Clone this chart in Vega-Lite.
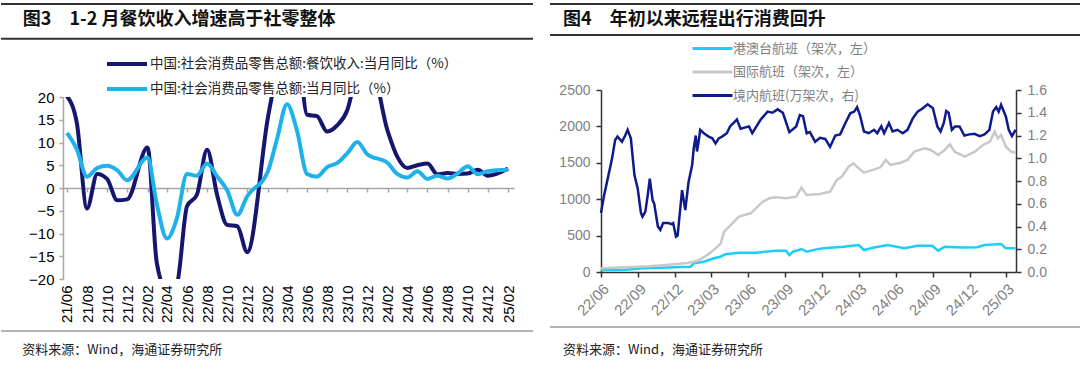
{
  "$schema": "https://vega.github.io/schema/vega-lite/v6.json",
  "padding": {"top": 3, "left": 0, "right": 0, "bottom": 0},
  "config": {"view": {"stroke": null}, "font": "Liberation Sans"},
  "spacing": 15,
  "resolve": {"scale": {"color": "independent"}, "legend": {"color": "independent"}},
  "hconcat": [
    {
      "spacing": 52,
      "bounds": "flush",
      "vconcat": [
        {
          "width": 532,
          "height": 41,
          "data": {"values": [{"t": "图3　1-2 月餐饮收入增速高于社零整体"}]},
          "layer": [
            {"mark": {"type": "rule", "stroke": "#333333", "strokeWidth": 2}, "encoding": {"y": {"datum": 1, "type": "quantitative", "scale": {"domain": [0, 1]}, "axis": null}}},
            {"mark": {"type": "rule", "stroke": "#333333", "strokeWidth": 2}, "encoding": {"y": {"datum": 0.15, "type": "quantitative", "axis": null}}},
            {"mark": {"type": "text", "align": "left", "baseline": "middle", "font": "Noto Sans CJK SC", "fontSize": 18, "fontWeight": "bold", "color": "#111111"},
             "encoding": {"text": {"field": "t"}, "x": {"datum": 0.041, "type": "quantitative", "scale": {"domain": [0, 1]}, "axis": null}, "y": {"datum": 0.6, "type": "quantitative", "axis": null}}}
          ]
        },
        {
          "width": 532,
          "height": 182,
          "data": {"values": [
            {"m": "2021-06-01", "c": 20.2, "r": 12.1},
            {"m": "2021-07-01", "c": 14.3, "r": 8.5},
            {"m": "2021-08-01", "c": -4.5, "r": 2.5},
            {"m": "2021-09-01", "c": 3.1, "r": 4.4},
            {"m": "2021-10-01", "c": 2.0, "r": 4.9},
            {"m": "2021-11-01", "c": -2.7, "r": 3.9},
            {"m": "2021-12-01", "c": -2.5, "r": 1.7},
            {"m": "2022-02-01", "c": 8.9, "r": 6.7},
            {"m": "2022-03-01", "c": -16.4, "r": -3.5},
            {"m": "2022-04-01", "c": -22.7, "r": -11.1},
            {"m": "2022-05-01", "c": -21.1, "r": -6.7},
            {"m": "2022-06-01", "c": -4.0, "r": 3.1},
            {"m": "2022-07-01", "c": -1.5, "r": 2.7},
            {"m": "2022-08-01", "c": 8.4, "r": 5.4},
            {"m": "2022-09-01", "c": -1.7, "r": 2.5},
            {"m": "2022-10-01", "c": -8.1, "r": -0.5},
            {"m": "2022-11-01", "c": -8.4, "r": -5.9},
            {"m": "2022-12-01", "c": -14.1, "r": -1.8},
            {"m": "2023-02-01", "c": 15.1, "r": 3.5},
            {"m": "2023-03-01", "c": 26.3, "r": 10.6},
            {"m": "2023-04-01", "c": 43.8, "r": 18.4},
            {"m": "2023-05-01", "c": 35.1, "r": 12.7},
            {"m": "2023-06-01", "c": 16.1, "r": 3.1},
            {"m": "2023-07-01", "c": 15.8, "r": 2.5},
            {"m": "2023-08-01", "c": 12.4, "r": 4.6},
            {"m": "2023-09-01", "c": 13.8, "r": 5.5},
            {"m": "2023-10-01", "c": 17.1, "r": 7.6},
            {"m": "2023-11-01", "c": 25.8, "r": 10.1},
            {"m": "2023-12-01", "c": 30.0, "r": 7.4},
            {"m": "2024-02-01", "c": 12.5, "r": 5.5},
            {"m": "2024-03-01", "c": 6.9, "r": 3.1},
            {"m": "2024-04-01", "c": 4.4, "r": 2.3},
            {"m": "2024-05-01", "c": 5.0, "r": 3.7},
            {"m": "2024-06-01", "c": 5.4, "r": 2.0},
            {"m": "2024-07-01", "c": 3.0, "r": 2.7},
            {"m": "2024-08-01", "c": 3.3, "r": 2.1},
            {"m": "2024-09-01", "c": 3.1, "r": 3.2},
            {"m": "2024-10-01", "c": 3.2, "r": 4.8},
            {"m": "2024-11-01", "c": 4.0, "r": 3.0},
            {"m": "2024-12-01", "c": 2.7, "r": 3.7},
            {"m": "2025-02-01", "c": 4.3, "r": 4.0}
          ]},
          "transform": [{"fold": ["c", "r"], "as": ["k", "v"]}],
          "mark": {"type": "line", "strokeWidth": 4, "interpolate": "monotone", "clip": true},
          "encoding": {
            "x": {"field": "m", "type": "temporal",
              "scale": {"type": "utc", "domain": [{"year": 2021, "month": 5, "date": 20, "utc": true}, {"year": 2025, "month": 2, "date": 19, "utc": true}], "range": [62, 513]},
              "axis": {"orient": "bottom", "offset": -91, "title": null, "grid": false,
                "values": [
                  {"year": 2021, "month": 6, "date": 1, "utc": true}, {"year": 2021, "month": 8, "date": 1, "utc": true}, {"year": 2021, "month": 10, "date": 1, "utc": true}, {"year": 2021, "month": 12, "date": 1, "utc": true},
                  {"year": 2022, "month": 2, "date": 1, "utc": true}, {"year": 2022, "month": 4, "date": 1, "utc": true}, {"year": 2022, "month": 6, "date": 1, "utc": true}, {"year": 2022, "month": 8, "date": 1, "utc": true}, {"year": 2022, "month": 10, "date": 1, "utc": true}, {"year": 2022, "month": 12, "date": 1, "utc": true},
                  {"year": 2023, "month": 2, "date": 1, "utc": true}, {"year": 2023, "month": 4, "date": 1, "utc": true}, {"year": 2023, "month": 6, "date": 1, "utc": true}, {"year": 2023, "month": 8, "date": 1, "utc": true}, {"year": 2023, "month": 10, "date": 1, "utc": true}, {"year": 2023, "month": 12, "date": 1, "utc": true},
                  {"year": 2024, "month": 2, "date": 1, "utc": true}, {"year": 2024, "month": 4, "date": 1, "utc": true}, {"year": 2024, "month": 6, "date": 1, "utc": true}, {"year": 2024, "month": 8, "date": 1, "utc": true}, {"year": 2024, "month": 10, "date": 1, "utc": true}, {"year": 2024, "month": 12, "date": 1, "utc": true},
                  {"year": 2025, "month": 2, "date": 1, "utc": true}
                ],
                "format": "%y/%m", "labelAngle": -90, "labelAlign": "right", "labelBaseline": "middle",
                "labelPadding": 93, "labelFont": "Liberation Sans", "labelFontSize": 15, "labelColor": "#000000",
                "labelOverlap": false, "labelBound": false, "labelFlush": false,
                "domainColor": "#a6a6a6", "domainWidth": 1.5, "tickColor": "#a6a6a6", "tickWidth": 1.5, "tickSize": 4}},
            "y": {"field": "v", "type": "quantitative", "scale": {"domain": [-20, 20], "nice": false},
              "axis": {"orient": "left", "offset": -62, "title": null, "grid": false, "values": [-20, -15, -10, -5, 0, 5, 10, 15, 20],
                "labelFont": "Liberation Sans", "labelFontSize": 15, "labelColor": "#000000", "labelPadding": 5,
                "domainColor": "#a6a6a6", "domainWidth": 1.5, "tickColor": "#a6a6a6", "tickWidth": 1.5, "tickSize": 4}},
            "color": {"field": "k", "type": "nominal", "scale": {"domain": ["c", "r"], "range": ["#15166f", "#1eb1ea"]},
              "legend": {"orient": "none", "legendX": 104, "legendY": 50, "direction": "vertical", "title": null, "padding": 0,
                "symbolType": "M-1,0H4", "symbolSize": 256, "symbolStrokeWidth": 4, "labelOffset": 25, "rowPadding": 7,
                "labelFont": "Noto Sans CJK SC", "labelFontSize": 13.5, "labelColor": "#222222", "labelLimit": 600,
                "labelExpr": "datum.label == 'c' ? '中国:社会消费品零售总额:餐饮收入:当月同比（%）' : '中国:社会消费品零售总额:当月同比（%）'"}}
          }
        },
        {
          "width": 532,
          "height": 30,
          "data": {"values": [{"t": "资料来源：Wind，海通证券研究所"}]},
          "layer": [
            {"mark": {"type": "rule", "stroke": "#9a9a9a", "strokeWidth": 1.5}, "encoding": {"y": {"datum": 1, "type": "quantitative", "scale": {"domain": [0, 1]}, "axis": null}}},
            {"mark": {"type": "text", "align": "left", "baseline": "middle", "font": "Noto Sans CJK SC", "fontSize": 13, "color": "#222222"},
             "encoding": {"text": {"field": "t"}, "x": {"datum": 0.04, "type": "quantitative", "scale": {"domain": [0, 1]}, "axis": null}, "y": {"datum": 0.37, "type": "quantitative", "axis": null}}}
          ]
        }
      ]
    },
    {
      "spacing": 55,
      "bounds": "flush",
      "vconcat": [
        {
          "width": 531,
          "height": 31,
          "data": {"values": [{"t": "图4　年初以来远程出行消费回升"}]},
          "layer": [
            {"mark": {"type": "rule", "stroke": "#333333", "strokeWidth": 2}, "encoding": {"y": {"datum": 1, "type": "quantitative", "scale": {"domain": [0, 1]}, "axis": null}}},
            {"mark": {"type": "rule", "stroke": "#333333", "strokeWidth": 2}, "encoding": {"y": {"datum": 0, "type": "quantitative", "axis": null}}},
            {"mark": {"type": "text", "align": "left", "baseline": "middle", "font": "Noto Sans CJK SC", "fontSize": 18, "fontWeight": "bold", "color": "#111111"},
             "encoding": {"text": {"field": "t"}, "x": {"datum": 0.0245, "type": "quantitative", "scale": {"domain": [0, 1]}, "axis": null}, "y": {"datum": 0.48, "type": "quantitative", "axis": null}}}
          ]
        },
        {
          "width": 531,
          "height": 182,
          "data": {"values": [
            {"d": "2022-06-01", "s": "hmt", "v": 27}, {"d": "2022-08-01", "s": "hmt", "v": 30}, {"d": "2022-09-14", "s": "hmt", "v": 50}, {"d": "2022-11-02", "s": "hmt", "v": 59},
            {"d": "2022-12-15", "s": "hmt", "v": 70}, {"d": "2023-01-09", "s": "hmt", "v": 73}, {"d": "2023-01-17", "s": "hmt", "v": 119}, {"d": "2023-02-11", "s": "hmt", "v": 142},
            {"d": "2023-03-08", "s": "hmt", "v": 188}, {"d": "2023-03-24", "s": "hmt", "v": 210}, {"d": "2023-04-05", "s": "hmt", "v": 243}, {"d": "2023-05-09", "s": "hmt", "v": 265},
            {"d": "2023-06-20", "s": "hmt", "v": 265}, {"d": "2023-08-09", "s": "hmt", "v": 293}, {"d": "2023-09-03", "s": "hmt", "v": 293}, {"d": "2023-09-11", "s": "hmt", "v": 233},
            {"d": "2023-09-20", "s": "hmt", "v": 279}, {"d": "2023-10-11", "s": "hmt", "v": 316}, {"d": "2023-10-24", "s": "hmt", "v": 279}, {"d": "2023-11-17", "s": "hmt", "v": 311},
            {"d": "2023-12-05", "s": "hmt", "v": 325}, {"d": "2024-01-23", "s": "hmt", "v": 348}, {"d": "2024-03-01", "s": "hmt", "v": 371}, {"d": "2024-03-14", "s": "hmt", "v": 302},
            {"d": "2024-04-08", "s": "hmt", "v": 336}, {"d": "2024-05-12", "s": "hmt", "v": 371}, {"d": "2024-06-22", "s": "hmt", "v": 325}, {"d": "2024-07-25", "s": "hmt", "v": 360},
            {"d": "2024-08-30", "s": "hmt", "v": 360}, {"d": "2024-09-14", "s": "hmt", "v": 293}, {"d": "2024-09-30", "s": "hmt", "v": 348}, {"d": "2024-11-15", "s": "hmt", "v": 336},
            {"d": "2024-12-20", "s": "hmt", "v": 340}, {"d": "2025-01-07", "s": "hmt", "v": 371}, {"d": "2025-02-17", "s": "hmt", "v": 385}, {"d": "2025-03-01", "s": "hmt", "v": 325},
            {"d": "2025-03-25", "s": "hmt", "v": 325},
            {"d": "2022-06-01", "s": "intl", "v": 50}, {"d": "2022-08-01", "s": "intl", "v": 65}, {"d": "2022-10-01", "s": "intl", "v": 80}, {"d": "2022-11-15", "s": "intl", "v": 100},
            {"d": "2023-01-01", "s": "intl", "v": 125}, {"d": "2023-01-25", "s": "intl", "v": 151}, {"d": "2023-02-20", "s": "intl", "v": 233}, {"d": "2023-03-12", "s": "intl", "v": 325},
            {"d": "2023-03-25", "s": "intl", "v": 394}, {"d": "2023-04-02", "s": "intl", "v": 554}, {"d": "2023-04-15", "s": "intl", "v": 622}, {"d": "2023-05-09", "s": "intl", "v": 760},
            {"d": "2023-06-07", "s": "intl", "v": 806}, {"d": "2023-06-20", "s": "intl", "v": 875}, {"d": "2023-07-07", "s": "intl", "v": 966}, {"d": "2023-07-23", "s": "intl", "v": 1012},
            {"d": "2023-08-09", "s": "intl", "v": 1026}, {"d": "2023-09-03", "s": "intl", "v": 1012}, {"d": "2023-09-28", "s": "intl", "v": 1035}, {"d": "2023-10-11", "s": "intl", "v": 1160},
            {"d": "2023-10-24", "s": "intl", "v": 1058}, {"d": "2023-11-26", "s": "intl", "v": 1071}, {"d": "2023-12-21", "s": "intl", "v": 1103}, {"d": "2024-01-07", "s": "intl", "v": 1264},
            {"d": "2024-01-19", "s": "intl", "v": 1309}, {"d": "2024-02-05", "s": "intl", "v": 1447}, {"d": "2024-02-17", "s": "intl", "v": 1493}, {"d": "2024-02-27", "s": "intl", "v": 1438},
            {"d": "2024-03-14", "s": "intl", "v": 1364}, {"d": "2024-03-30", "s": "intl", "v": 1392}, {"d": "2024-04-24", "s": "intl", "v": 1438}, {"d": "2024-05-07", "s": "intl", "v": 1538},
            {"d": "2024-05-19", "s": "intl", "v": 1470}, {"d": "2024-06-13", "s": "intl", "v": 1501}, {"d": "2024-06-30", "s": "intl", "v": 1538}, {"d": "2024-07-17", "s": "intl", "v": 1653},
            {"d": "2024-08-11", "s": "intl", "v": 1699}, {"d": "2024-08-27", "s": "intl", "v": 1676}, {"d": "2024-09-14", "s": "intl", "v": 1607}, {"d": "2024-09-30", "s": "intl", "v": 1676},
            {"d": "2024-10-13", "s": "intl", "v": 1754}, {"d": "2024-10-25", "s": "intl", "v": 1653}, {"d": "2024-11-19", "s": "intl", "v": 1584}, {"d": "2024-12-14", "s": "intl", "v": 1653},
            {"d": "2025-01-03", "s": "intl", "v": 1745}, {"d": "2025-01-20", "s": "intl", "v": 1790}, {"d": "2025-02-01", "s": "intl", "v": 1927}, {"d": "2025-02-09", "s": "intl", "v": 1836},
            {"d": "2025-02-17", "s": "intl", "v": 1882}, {"d": "2025-03-01", "s": "intl", "v": 1721}, {"d": "2025-03-14", "s": "intl", "v": 1653}, {"d": "2025-03-25", "s": "intl", "v": 1639},
            {"d": "2022-06-01", "s": "dom", "v": 0.52}, {"d": "2022-06-09", "s": "dom", "v": 0.68}, {"d": "2022-06-17", "s": "dom", "v": 0.81}, {"d": "2022-06-25", "s": "dom", "v": 0.94},
            {"d": "2022-06-29", "s": "dom", "v": 1.01}, {"d": "2022-07-06", "s": "dom", "v": 1.16}, {"d": "2022-07-12", "s": "dom", "v": 1.19}, {"d": "2022-07-23", "s": "dom", "v": 1.145},
            {"d": "2022-07-31", "s": "dom", "v": 1.2}, {"d": "2022-08-06", "s": "dom", "v": 1.25}, {"d": "2022-08-14", "s": "dom", "v": 1.175}, {"d": "2022-08-23", "s": "dom", "v": 0.85},
            {"d": "2022-08-31", "s": "dom", "v": 0.735}, {"d": "2022-09-08", "s": "dom", "v": 0.52}, {"d": "2022-09-12", "s": "dom", "v": 0.486}, {"d": "2022-09-19", "s": "dom", "v": 0.53},
            {"d": "2022-09-25", "s": "dom", "v": 0.68}, {"d": "2022-09-30", "s": "dom", "v": 0.82}, {"d": "2022-10-07", "s": "dom", "v": 0.63}, {"d": "2022-10-11", "s": "dom", "v": 0.6},
            {"d": "2022-10-20", "s": "dom", "v": 0.4}, {"d": "2022-10-26", "s": "dom", "v": 0.37}, {"d": "2022-11-02", "s": "dom", "v": 0.43}, {"d": "2022-11-15", "s": "dom", "v": 0.43},
            {"d": "2022-11-23", "s": "dom", "v": 0.42}, {"d": "2022-11-27", "s": "dom", "v": 0.43}, {"d": "2022-12-04", "s": "dom", "v": 0.31}, {"d": "2022-12-08", "s": "dom", "v": 0.32},
            {"d": "2022-12-19", "s": "dom", "v": 0.72}, {"d": "2022-12-27", "s": "dom", "v": 0.545}, {"d": "2023-01-04", "s": "dom", "v": 0.79}, {"d": "2023-01-13", "s": "dom", "v": 0.94},
            {"d": "2023-01-17", "s": "dom", "v": 1.09}, {"d": "2023-01-22", "s": "dom", "v": 1.2}, {"d": "2023-01-25", "s": "dom", "v": 1.06}, {"d": "2023-01-29", "s": "dom", "v": 1.145},
            {"d": "2023-02-02", "s": "dom", "v": 1.25}, {"d": "2023-02-11", "s": "dom", "v": 1.22}, {"d": "2023-02-23", "s": "dom", "v": 1.19}, {"d": "2023-03-04", "s": "dom", "v": 1.175},
            {"d": "2023-03-12", "s": "dom", "v": 1.13}, {"d": "2023-03-20", "s": "dom", "v": 1.175}, {"d": "2023-03-28", "s": "dom", "v": 1.19}, {"d": "2023-04-09", "s": "dom", "v": 1.22},
            {"d": "2023-04-17", "s": "dom", "v": 1.28}, {"d": "2023-05-04", "s": "dom", "v": 1.34}, {"d": "2023-05-13", "s": "dom", "v": 1.26}, {"d": "2023-06-03", "s": "dom", "v": 1.28},
            {"d": "2023-06-11", "s": "dom", "v": 1.22}, {"d": "2023-07-02", "s": "dom", "v": 1.34}, {"d": "2023-07-19", "s": "dom", "v": 1.41}, {"d": "2023-07-31", "s": "dom", "v": 1.4},
            {"d": "2023-08-13", "s": "dom", "v": 1.43}, {"d": "2023-08-26", "s": "dom", "v": 1.4}, {"d": "2023-09-11", "s": "dom", "v": 1.23}, {"d": "2023-09-28", "s": "dom", "v": 1.28},
            {"d": "2023-10-07", "s": "dom", "v": 1.38}, {"d": "2023-10-15", "s": "dom", "v": 1.37}, {"d": "2023-10-24", "s": "dom", "v": 1.22}, {"d": "2023-11-01", "s": "dom", "v": 1.23},
            {"d": "2023-11-14", "s": "dom", "v": 1.145}, {"d": "2023-11-26", "s": "dom", "v": 1.18}, {"d": "2023-12-09", "s": "dom", "v": 1.17}, {"d": "2023-12-21", "s": "dom", "v": 1.1},
            {"d": "2024-01-03", "s": "dom", "v": 1.2}, {"d": "2024-01-15", "s": "dom", "v": 1.21}, {"d": "2024-01-28", "s": "dom", "v": 1.31}, {"d": "2024-02-09", "s": "dom", "v": 1.395},
            {"d": "2024-02-19", "s": "dom", "v": 1.41}, {"d": "2024-02-26", "s": "dom", "v": 1.45}, {"d": "2024-03-04", "s": "dom", "v": 1.38}, {"d": "2024-03-14", "s": "dom", "v": 1.235},
            {"d": "2024-03-26", "s": "dom", "v": 1.22}, {"d": "2024-04-08", "s": "dom", "v": 1.25}, {"d": "2024-04-16", "s": "dom", "v": 1.22}, {"d": "2024-04-26", "s": "dom", "v": 1.28},
            {"d": "2024-05-03", "s": "dom", "v": 1.22}, {"d": "2024-05-15", "s": "dom", "v": 1.31}, {"d": "2024-05-24", "s": "dom", "v": 1.235}, {"d": "2024-06-05", "s": "dom", "v": 1.25},
            {"d": "2024-06-18", "s": "dom", "v": 1.22}, {"d": "2024-06-30", "s": "dom", "v": 1.25}, {"d": "2024-07-13", "s": "dom", "v": 1.35}, {"d": "2024-07-25", "s": "dom", "v": 1.41},
            {"d": "2024-08-07", "s": "dom", "v": 1.44}, {"d": "2024-08-19", "s": "dom", "v": 1.475}, {"d": "2024-09-01", "s": "dom", "v": 1.44}, {"d": "2024-09-12", "s": "dom", "v": 1.28},
            {"d": "2024-09-20", "s": "dom", "v": 1.235}, {"d": "2024-09-28", "s": "dom", "v": 1.31}, {"d": "2024-10-04", "s": "dom", "v": 1.415}, {"d": "2024-10-10", "s": "dom", "v": 1.4},
            {"d": "2024-10-18", "s": "dom", "v": 1.25}, {"d": "2024-10-26", "s": "dom", "v": 1.28}, {"d": "2024-11-06", "s": "dom", "v": 1.28}, {"d": "2024-11-18", "s": "dom", "v": 1.2},
            {"d": "2024-12-01", "s": "dom", "v": 1.21}, {"d": "2024-12-13", "s": "dom", "v": 1.215}, {"d": "2024-12-26", "s": "dom", "v": 1.195}, {"d": "2025-01-07", "s": "dom", "v": 1.21},
            {"d": "2025-01-19", "s": "dom", "v": 1.25}, {"d": "2025-01-28", "s": "dom", "v": 1.41}, {"d": "2025-02-05", "s": "dom", "v": 1.45}, {"d": "2025-02-11", "s": "dom", "v": 1.41},
            {"d": "2025-02-17", "s": "dom", "v": 1.47}, {"d": "2025-03-01", "s": "dom", "v": 1.365}, {"d": "2025-03-08", "s": "dom", "v": 1.25}, {"d": "2025-03-16", "s": "dom", "v": 1.195},
            {"d": "2025-03-25", "s": "dom", "v": 1.25}
          ]},
          "layer": [
            {
              "transform": [{"filter": "datum.s != 'dom'"}],
              "mark": {"type": "line", "strokeWidth": 2.5, "clip": true},
              "encoding": {
                "x": {"field": "d", "type": "temporal",
                  "scale": {"type": "utc", "domain": [{"year": 2022, "month": 6, "date": 1, "utc": true}, {"year": 2025, "month": 3, "date": 26, "utc": true}], "range": [51, 466]},
                  "axis": {"orient": "bottom", "title": null, "grid": false,
                    "values": [
                      {"year": 2022, "month": 6, "date": 1, "utc": true}, {"year": 2022, "month": 9, "date": 1, "utc": true}, {"year": 2022, "month": 12, "date": 1, "utc": true},
                      {"year": 2023, "month": 3, "date": 1, "utc": true}, {"year": 2023, "month": 6, "date": 1, "utc": true}, {"year": 2023, "month": 9, "date": 1, "utc": true}, {"year": 2023, "month": 12, "date": 1, "utc": true},
                      {"year": 2024, "month": 3, "date": 1, "utc": true}, {"year": 2024, "month": 6, "date": 1, "utc": true}, {"year": 2024, "month": 9, "date": 1, "utc": true}, {"year": 2024, "month": 12, "date": 1, "utc": true},
                      {"year": 2025, "month": 3, "date": 1, "utc": true}
                    ],
                    "format": "%y/%m", "labelAngle": -45, "labelAlign": "right", "labelBaseline": "top",
                    "labelPadding": 4, "labelFont": "Liberation Sans", "labelFontSize": 15, "labelColor": "#808080",
                    "labelOverlap": false, "labelBound": false, "labelFlush": false,
                    "domainColor": "#333333", "domainWidth": 1.5, "tickColor": "#333333", "tickWidth": 1.5, "tickSize": 5}},
                "y": {"field": "v", "type": "quantitative", "scale": {"domain": [0, 2500], "nice": false},
                  "axis": {"orient": "left", "offset": -51, "title": null, "grid": false, "values": [0, 500, 1000, 1500, 2000, 2500], "format": "d",
                    "labelFont": "Liberation Sans", "labelFontSize": 14, "labelColor": "#808080", "labelPadding": 6,
                    "domainColor": "#333333", "domainWidth": 1.5, "tickColor": "#333333", "tickWidth": 1.5, "tickSize": 5}},
                "color": {"field": "s", "type": "nominal", "scale": {"domain": ["hmt", "intl", "dom"], "range": ["#1ccdf5", "#c8c8c8", "#0e1b8c"]},
                  "legend": {"orient": "none", "legendX": 141, "legendY": 35, "direction": "vertical", "title": null, "padding": 0,
                    "symbolType": "M-1,0H4", "symbolSize": 256, "symbolStrokeWidth": 3, "labelOffset": 23, "rowPadding": 6.5,
                    "labelFont": "Noto Sans CJK SC", "labelFontSize": 13, "labelColor": "#808080", "labelLimit": 600,
                    "labelExpr": "datum.label == 'hmt' ? '港澳台航班（架次，左）' : (datum.label == 'intl' ? '国际航班（架次，左）' : '境内航班(万架次，右)')"}}
              }
            },
            {
              "transform": [{"filter": "datum.s == 'dom'"}],
              "mark": {"type": "line", "strokeWidth": 2.5, "clip": true},
              "encoding": {
                "x": {"field": "d", "type": "temporal"},
                "y": {"field": "v", "type": "quantitative", "scale": {"domain": [0, 1.6], "nice": false},
                  "axis": {"orient": "right", "offset": -65, "title": null, "grid": false, "values": [0, 0.2, 0.4, 0.6, 0.8, 1.0, 1.2, 1.4, 1.6], "format": ".1f",
                    "labelFont": "Liberation Sans", "labelFontSize": 14, "labelColor": "#808080", "labelPadding": 6,
                    "domainColor": "#333333", "domainWidth": 1.5, "tickColor": "#333333", "tickWidth": 1.5, "tickSize": 5}},
                "color": {"field": "s", "type": "nominal"}
              }
            }
          ],
          "resolve": {"scale": {"y": "independent"}}
        },
        {
          "width": 531,
          "height": 30,
          "data": {"values": [{"t": "资料来源：Wind，海通证券研究所"}]},
          "layer": [
            {"mark": {"type": "rule", "stroke": "#9a9a9a", "strokeWidth": 1.5}, "encoding": {"y": {"datum": 1, "type": "quantitative", "scale": {"domain": [0, 1]}, "axis": null}}},
            {"mark": {"type": "text", "align": "left", "baseline": "middle", "font": "Noto Sans CJK SC", "fontSize": 13, "color": "#222222"},
             "encoding": {"text": {"field": "t"}, "x": {"datum": 0.0245, "type": "quantitative", "scale": {"domain": [0, 1]}, "axis": null}, "y": {"datum": 0.23, "type": "quantitative", "axis": null}}}
          ]
        }
      ]
    }
  ]
}
